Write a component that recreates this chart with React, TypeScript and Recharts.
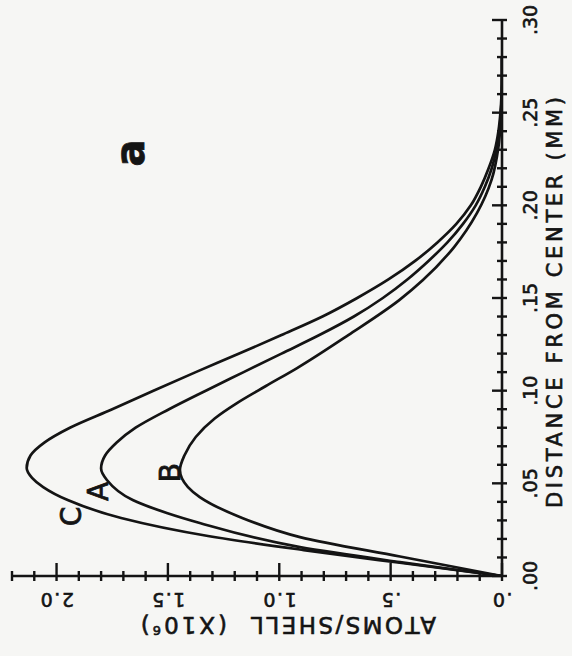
import React from 'react';
import { LineChart, Line, XAxis, YAxis, ReferenceDot } from 'recharts';

// Distance from center (mm) and atoms/shell (x10^6)
const curveCDistance = [0, 0.007, 0.014, 0.0216, 0.0313, 0.041, 0.048, 0.053, 0.0583, 0.065, 0.072, 0.08, 0.09, 0.1, 0.11, 0.12, 0.13, 0.14, 0.15, 0.16, 0.17, 0.18, 0.19, 0.2, 0.21, 0.22, 0.23, 0.24, 0.25, 0.26, 0.27, 0.28];
const curveCAtoms = [0, 0.45, 0.89, 1.32, 1.71, 1.95, 2.06, 2.11, 2.134, 2.117, 2.055, 1.94, 1.75, 1.565, 1.375, 1.18, 0.99, 0.806, 0.65, 0.51, 0.39, 0.29, 0.205, 0.14, 0.095, 0.06, 0.032, 0.016, 0.007, 0.002, 0, 0];

const curveADistance = [0, 0.0075, 0.0156, 0.0286, 0.034, 0.041, 0.0518, 0.058, 0.065, 0.072, 0.08, 0.09, 0.1, 0.11, 0.12, 0.13, 0.14, 0.15, 0.16, 0.17, 0.18, 0.19, 0.2, 0.21, 0.22, 0.23, 0.24, 0.25, 0.26, 0.27, 0.28];
const curveAAtoms = [0, 0.458, 0.907, 1.357, 1.505, 1.658, 1.774, 1.8, 1.782, 1.73, 1.645, 1.495, 1.33, 1.16, 0.99, 0.82, 0.665, 0.535, 0.425, 0.33, 0.245, 0.175, 0.118, 0.077, 0.046, 0.025, 0.012, 0.005, 0.001, 0, 0];

const curveBDistance = [0, 0.0105, 0.021, 0.032, 0.0426, 0.048, 0.0572, 0.065, 0.075, 0.085, 0.0933, 0.1025, 0.1122, 0.13, 0.149, 0.1597, 0.1775, 0.1959, 0.2137, 0.2315, 0.25, 0.265, 0.28];
const curveBAtoms = [0, 0.458, 0.907, 1.18, 1.357, 1.41, 1.446, 1.426, 1.375, 1.29, 1.19, 1.06, 0.92, 0.69, 0.46, 0.355, 0.215, 0.112, 0.047, 0.016, 0.004, 0, 0];

const distanceTicks = [0, 0.01, 0.02, 0.03, 0.04, 0.05, 0.06, 0.07, 0.08, 0.09, 0.1, 0.11, 0.12, 0.13, 0.14, 0.15, 0.16, 0.17, 0.18, 0.19, 0.2, 0.21, 0.22, 0.23, 0.24, 0.25, 0.26, 0.27, 0.28, 0.29, 0.3];
const distanceTickLabels = ['.00', '.05', '.10', '.15', '.20', '.25', '.30'];
const atomTicks = [0, 0.1, 0.2, 0.3, 0.4, 0.5, 0.6, 0.7, 0.8, 0.9, 1.0, 1.1, 1.2, 1.3, 1.4, 1.5, 1.6, 1.7, 1.8, 1.9, 2.0, 2.1, 2.2];
const atomTickLabels = ['.0', '.5', '1.0', '1.5', '2.0'];

const curveLabelNames = ['C', 'A', 'B'];
const curveLabelDistance = [0.0321, 0.0456, 0.0558];
const curveLabelAtoms = [1.935, 1.814, 1.493];
const panelLabel = 'a';
const panelLabelDistance = 0.2282;
const panelLabelAtoms = 1.657;

const rows = (ds: number[], ns: number[]) => ds.map((d, i) => ({ d, n: ns[i] }));
const dataC = rows(curveCDistance, curveCAtoms);
const dataA = rows(curveADistance, curveAAtoms);
const dataB = rows(curveBDistance, curveBAtoms);

const INK = '#141414';
const FONT = '"DejaVu Sans", sans-serif';

const DistTick = (props: any) => {
  const { x, y, payload } = props;
  const k = Math.round(payload.value * 100);
  const major = k % 5 === 0;
  return (
    <g>
      <line x1={x} x2={x} y1={y - (major ? 10 : 5)} y2={y + 5} stroke={INK} strokeWidth={2.4} />
      {major && (
        <text x={x} y={y + 35} textAnchor="middle" fontSize={19} fontFamily={FONT} fill={INK} stroke={INK} strokeWidth={0.6}>
          {distanceTickLabels[k / 5]}
        </text>
      )}
    </g>
  );
};

const AtomTick = (props: any) => {
  const { x, y, payload } = props;
  const k = Math.round(payload.value * 10);
  const major = k % 5 === 0;
  const lx = x - 17;
  return (
    <g>
      <line x1={x - 5} x2={x + (major ? 13 : 5)} y1={y} y2={y} stroke={INK} strokeWidth={2.4} />
      {major && k / 5 < atomTickLabels.length && (
        <text x={lx} y={y} transform={`rotate(-90, ${lx}, ${y})`} textAnchor="middle" fontSize={19} letterSpacing={1.5} fontFamily={FONT} fill={INK} stroke={INK} strokeWidth={0.6}>
          {atomTickLabels[k / 5]}
        </text>
      )}
    </g>
  );
};

const letterShape = (txt: string, size: number, bold: boolean) => (p: any) => (
  <text
    x={p.cx}
    y={p.cy + (bold ? 0.27 : 0.365) * size}
    textAnchor="middle"
    fontSize={size}
    fontWeight={bold ? 'bold' : 'normal'}
    fontFamily={FONT}
    fill={INK}
    stroke={INK}
    strokeWidth={0.8}
  >
    {txt}
  </text>
);

export default function App() {
  return (
    <div style={{ position: 'absolute', left: 0, top: 0, width: 572, height: 656, overflow: 'hidden', background: '#f6f6f4' }}>
      <div
        style={{
          position: 'absolute',
          left: 0,
          top: 0,
          width: 656,
          height: 572,
          transformOrigin: '0 0',
          transform: 'translateY(656px) rotate(-90deg)',
        }}
      >
        <LineChart width={656} height={572} margin={{ top: 12, right: 20, left: 0, bottom: 0 }}>
          <XAxis
            type="number"
            dataKey="d"
            domain={[0, 0.3]}
            ticks={distanceTicks}
            interval={0}
            height={70}
            tickSize={0}
            tickMargin={0}
            tickLine={false}
            axisLine={{ stroke: INK, strokeWidth: 2.6 }}
            tick={(p: any) => <DistTick {...p} />}
            allowDataOverflow
          />
          <YAxis
            type="number"
            dataKey="n"
            domain={[0, 2.2]}
            ticks={atomTicks}
            interval={0}
            width={80}
            tickSize={0}
            tickMargin={0}
            tickLine={false}
            axisLine={{ stroke: INK, strokeWidth: 2.6 }}
            tick={(p: any) => <AtomTick {...p} />}
            allowDataOverflow
          />
          <Line data={dataC} dataKey="n" type="monotone" stroke={INK} strokeWidth={2.7} dot={false} isAnimationActive={false} />
          <Line data={dataA} dataKey="n" type="monotone" stroke={INK} strokeWidth={2.7} dot={false} isAnimationActive={false} />
          <Line data={dataB} dataKey="n" type="monotone" stroke={INK} strokeWidth={2.7} dot={false} isAnimationActive={false} />
          {curveLabelNames.map((nm, i) => (
            <ReferenceDot key={nm} x={curveLabelDistance[i]} y={curveLabelAtoms[i]} r={0} shape={letterShape(nm, 28, false)} ifOverflow="visible" />
          ))}
          <ReferenceDot x={panelLabelDistance} y={panelLabelAtoms} r={0} shape={letterShape(panelLabel, 40, true)} ifOverflow="visible" />
          <text x={148} y={562} textLength={411} lengthAdjust="spacing" fontSize={21} fontFamily={FONT} fill={INK} stroke={INK} strokeWidth={0.6}>
            DISTANCE FROM CENTER (MM)
          </text>
          <text x={39} y={436} transform="rotate(-90, 39, 436)" textLength={185} lengthAdjust="spacing" fontSize={23} fontFamily={FONT} fill={INK} stroke={INK} strokeWidth={0.6}>
            ATOMS/SHELL
          </text>
          <text x={39} y={227} transform="rotate(-90, 39, 227)" letterSpacing={3} fontSize={23} fontFamily={FONT} fill={INK} stroke={INK} strokeWidth={0.6}>
            <tspan>(X10</tspan>
            <tspan dy={-9} fontSize={13}>6</tspan>
            <tspan dy={9}>)</tspan>
          </text>
        </LineChart>
      </div>
    </div>
  );
}
